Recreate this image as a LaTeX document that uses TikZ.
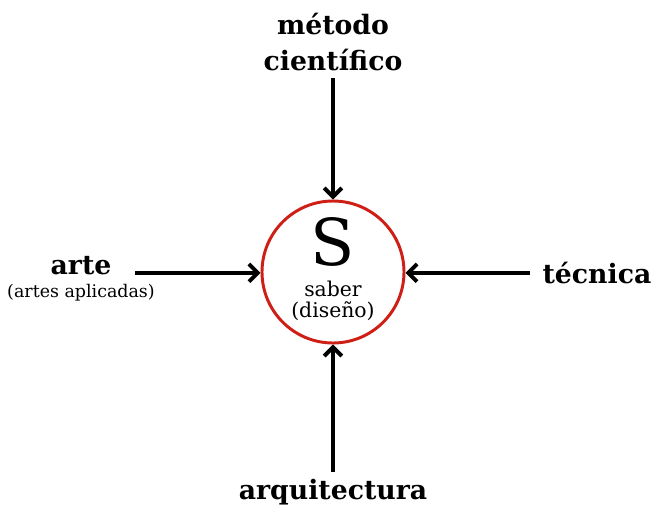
\documentclass[tikz,border=0pt]{standalone}
\usepackage{fontspec}
\setmainfont{DejaVu Serif}
\usepackage{xcolor}
\usetikzlibrary{positioning, arrows.meta}

\definecolor{saberred}{RGB}{206,30,22}

\begin{document}
\begin{tikzpicture}[
    core/.style={circle, draw=saberred, line width=2.1pt, fill=white,
                 minimum size=3.55cm, inner sep=0pt},
    letter/.style={font=\fontsize{46}{46}\selectfont, anchor=base, inner sep=0pt},
    inside/.style={font=\fontsize{14.5}{16.5}\selectfont, anchor=base, inner sep=0pt},
    source/.style={font=\fontsize{19}{25}\selectfont\bfseries, align=center, inner sep=1pt},
    note/.style={font=\fontsize{12.4}{14}\selectfont, inner sep=1pt},
    feed/.style={-{Straight Barb[length=2.2mm, width=4.4mm]}, line width=2.8pt},
  ]
  \useasboundingbox (-8.325,-5.975) rectangle (8.075,6.8);

  % ---------------- Centre ----------------
  \node[core] (saber) at (0,0) {};
  \node[letter] (S)      at (0, 0.16)   {S};
  \node[inside] (sabtxt) at (0, -0.6)   {saber};
  \node[inside] (diseno) at (0, -1.14)  {(diseño)};

  % ---------------- Sources ----------------
  \node[source] (metodo) at (0, 5.75) {método\\científico};
  \node[source] (arte)   at (-6.3, 0.15) {arte};
  \node[note, below=4pt of arte] (aplicadas) {(artes aplicadas)};
  \node[source] (tecnica) at (6.6, -0.02) {técnica};
  \node[source] (arquitectura) at (0, -5.5) {arquitectura};

  % ---------------- Arrows ----------------
  \coordinate (mIn) at (0, 4.85);
  \coordinate (aIn) at (-4.95, -0.02);
  \coordinate (tIn) at (4.925, -0.02);
  \coordinate (qIn) at (0, -5.0);
  \draw[feed] (mIn) -- (saber.north);
  \draw[feed] (aIn) -- (saber.west |- aIn);
  \draw[feed] (tIn) -- (saber.east |- tIn);
  \draw[feed] (qIn) -- (saber.south);
\end{tikzpicture}
\end{document}
